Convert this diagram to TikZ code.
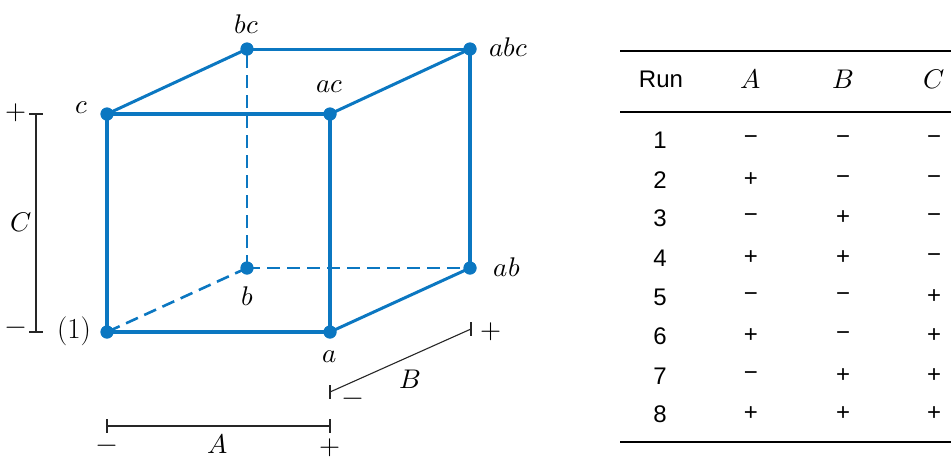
\documentclass[tikz,border=0pt]{standalone}
\usepackage{fontspec}
\usepackage{unicode-math}
\setmathfont{Latin Modern Math}
\newfontfamily\tabfont{Liberation Sans}
\definecolor{cubeblue}{HTML}{0B77C1}
\begin{document}
\begin{tikzpicture}[x=1pt,y=-1pt,
  lbl/.style={font=\fontsize{27}{31}\selectfont,inner sep=1pt},
  pm/.style={font=\fontsize{27}{31}\selectfont,inner sep=1pt},
  tab/.style={font=\tabfont\fontsize{24}{28}\selectfont,inner sep=1pt},
  thickedge/.style={draw=cubeblue,line width=4.5pt},
  thinedge/.style={draw=cubeblue,line width=3pt},
  dashedge/.style={draw=cubeblue,line width=2.6pt,dash pattern=on 13pt off 7pt},
  vdot/.style={circle,fill=cubeblue,inner sep=0pt,minimum size=13pt},
  bracket/.style={draw=black!85,line width=1.1pt}]
\useasboundingbox (0,0) rectangle (951,459);
% vertices
\node[vdot] (o) at (107,332) {};
\node[vdot] (a) at (330,332) {};
\node[vdot] (c) at (107,114) {};
\node[vdot] (ac) at (330,114) {};
\node[vdot] (b) at (247,268) {};
\node[vdot] (ab) at (470,268) {};
\node[vdot] (bc) at (247,49) {};
\node[vdot] (abc) at (470,49) {};
% hidden edges
\draw[dashedge] (b.center) -- (o.center);
\draw[dashedge] (b.center) -- (bc.center);
\draw[dashedge] (b.center) -- (ab.center);
% back/top edges
\draw[thinedge] (c.center) -- (bc.center);
\draw[thinedge] (bc.center) -- (abc.center);
\draw[thinedge] (ac.center) -- (abc.center);
\draw[thinedge] (a.center) -- (ab.center);
\draw[draw=cubeblue,line width=4pt] (abc.center) -- (ab.center);
% front face
\draw[thickedge] (o.center) -- (a.center);
\draw[thickedge] (c.center) -- (ac.center);
\draw[draw=cubeblue,line width=4pt] (a.center) -- (ac.center);
\draw[draw=cubeblue,line width=4pt] (o.center) -- (c.center);
% dots on top
\foreach \v in {o,a,c,ac,b,ab,bc,abc} \fill[cubeblue] (\v.center) circle (6.5pt);
% labels
\node[font=\fontsize{29}{33}\selectfont,inner sep=1pt] (lo) at (74,331) {(1)};
\node[lbl] (la) at (330,357) {$a$};
\node[lbl] (lc) at (82,108) {$c$};
\node[lbl] (lac) at (330,87) {$ac$};
\node[lbl] (lb) at (247,296) {$b$};
\node[lbl] (lab) at (507,267) {$ab$};
\node[lbl] (lbc) at (247,24) {$bc$};
\node[lbl] (labc) at (509,47) {$abc$};
% C bracket
\draw[bracket] (36,114) -- (36,332);
\draw[bracket] (29,114) -- (43,114);
\draw[bracket] (29,332) -- (43,332);
\node[pm] (cp) at (16,113) {$+$};
\node[pm] (cm) at (16,331) {$-$};
\node[lbl] (cl) at (21,222) {$C$};
% A bracket
\draw[bracket] (107,426) -- (330,426);
\draw[bracket] (107,419) -- (107,433);
\draw[bracket] (330,419) -- (330,433);
\node[pm] (am) at (107,449) {$-$};
\node[pm] (ap) at (330,448) {$+$};
\node[lbl] (alab) at (218,444) {$A$};
% B bracket
\draw[bracket] (330,392) -- (471,329);
\draw[bracket] (330,385) -- (330,399);
\draw[bracket] (471,322) -- (471,336);
\node[pm] (bm) at (353,402) {$-$};
\node[pm] (bp) at (491,332) {$+$};
\node[lbl] (blab) at (410,379) {$B$};
% table
\draw[line width=1.3pt] (620,51) -- (951,51);
\draw[line width=1.3pt] (620,112) -- (951,112);
\draw[line width=1.3pt] (620,442) -- (951,442);
\node[tab] (hr) at (661,79) {Run};
\node[lbl] (ha) at (751,79) {$A$};
\node[lbl] (hb) at (843,79) {$B$};
\node[lbl] (hc) at (934,79) {$C$};
\def\dashsym{-}
\foreach \n/\y/\sa/\sb/\sc in {1/140/-/-/-,2/180/+/-/-,3/218/-/+/-,4/258/+/+/-,5/297/-/-/+,6/336/+/-/+,7/376/-/+/+,8/414/+/+/+}{
  \node[tab] (r\n) at (660,\y) {\n};
  \node[tab] (ra\n) at (751,\y) {\ifx\sa\dashsym −\else +\fi};
  \node[tab] (rb\n) at (843,\y) {\ifx\sb\dashsym −\else +\fi};
  \node[tab] (rc\n) at (934,\y) {\ifx\sc\dashsym −\else +\fi};
}
\end{tikzpicture}
\end{document}
